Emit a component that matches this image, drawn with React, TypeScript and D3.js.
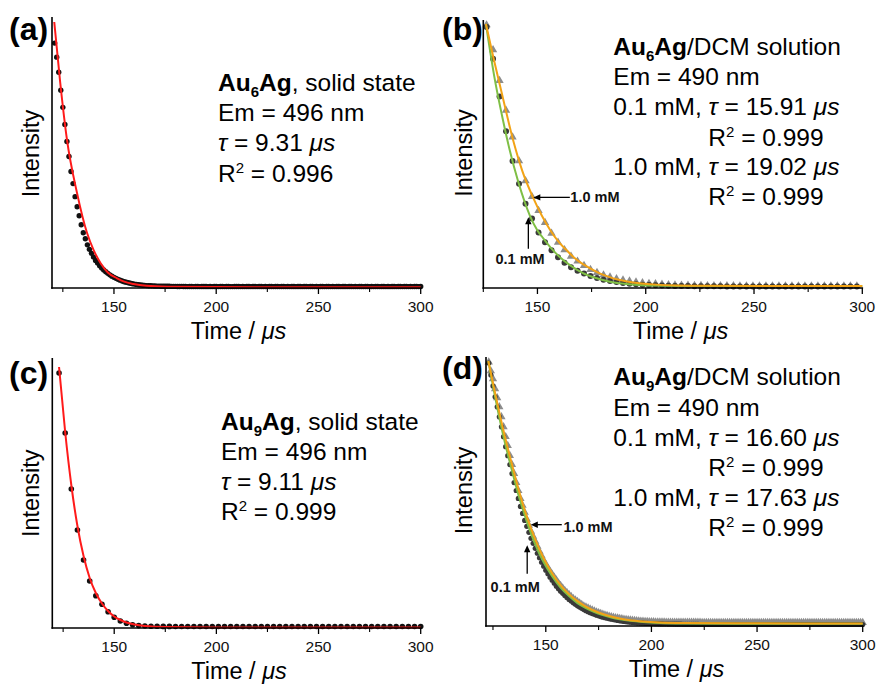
import React from "react";
import * as d3 from "d3";

const W = 879;
const H = 684;
const FONT = '"Liberation Sans", Arial, Helvetica, sans-serif';

const T_END = 300;
const MAJOR_TICKS = [150, 200, 250, 300];
const MINOR_TICKS = [125, 175, 225, 275];

// ---------- (a) Au6Ag solid state ----------
const A_START = 121;
const A_STEP = 1;
const A_DATA = [
  244, 230, 215, 197, 180, 163, 146, 131, 116, 104,
  91, 81, 72, 63, 55, 49, 43, 38.5, 34.5, 31,
  27.5, 24.8, 22.2, 20, 18, 16.2, 14.6, 13.1, 11.8, 10.6,
  9.6, 8.6, 7.8, 7, 6.3, 5.7, 5.2, 4.7, 4.3, 3.9,
  3.6, 3.3, 3.0, 2.8, 2.6, 2.4, 2.3, 2.2, 2.1, 2.0,
  1.9, 1.9, 1.8, 1.8, 1.7, 1.7, 1.7, 1.6, 1.6, 1.6,
  1.5, 1.5, 1.6, 1.5, 1.5, 1.4, 1.5, 1.5, 1.4, 1.5,
  1.5, 1.4, 1.5, 1.5, 1.5, 1.4, 1.5, 1.4, 1.5, 1.5,
  1.4, 1.5, 1.5, 1.4, 1.5, 1.5, 1.4, 1.4, 1.5, 1.5,
  1.5, 1.4, 1.5, 1.4, 1.5, 1.5, 1.4, 1.5, 1.5, 1.4,
  1.5, 1.5, 1.4, 1.5, 1.4, 1.5, 1.5, 1.4, 1.5, 1.5,
  1.4, 1.5, 1.5, 1.4, 1.5, 1.4, 1.5, 1.5, 1.4, 1.5,
  1.5, 1.4, 1.5, 1.5, 1.4, 1.5, 1.5, 1.4, 1.5, 1.4,
  1.5, 1.5, 1.4, 1.5, 1.5, 1.4, 1.5, 1.4, 1.5, 1.5,
  1.4, 1.5, 1.5, 1.4, 1.5, 1.5, 1.4, 1.5, 1.4, 1.5,
  1.5, 1.4, 1.5, 1.5, 1.4, 1.5, 1.4, 1.5, 1.5, 1.4,
  1.5, 1.5, 1.4, 1.5, 1.4, 1.5, 1.5, 1.4, 1.5, 1.5,
  1.4, 1.5, 1.5, 1.4, 1.5, 1.4, 1.5, 1.5, 1.4, 1.5,
];
const A_FIT_T = [120.8, 123.7, 127, 131.9, 136.8, 140, 143.4, 147, 151.5, 155, 159.6, 166, 176, 200, 300];
const A_FIT_I = [265, 205, 148, 95, 55, 38, 25, 15.5, 9.7, 6.3, 4, 2.2, 1.3, 0.9, 0.7];

// ---------- (b) Au6Ag / DCM solution ----------
const B_START = 126.5;
const B_STEP = 3;
const B_TRI_1MM = [
  265, 240, 209, 179, 152, 128, 108, 92, 78, 66,
  55, 46, 38.5, 32, 27, 22.5, 18.5, 15.5, 13, 11,
  9.3, 8, 7, 6, 5.2, 4.6, 4.1, 3.7, 3.3, 3.0,
  2.8, 2.6, 2.5, 2.4, 2.3, 2.2, 2.2, 2.1, 2.1, 2.0,
  2.0, 2.0, 2.0, 2.0, 2.0, 2.0, 2.0, 2.0, 2.0, 2.0,
  2.0, 2.0, 2.0, 2.0, 2.0, 2.0, 2.0, 2.0,
];
const B_CIRC_01MM = [
  263, 231, 193, 158, 128, 105, 85, 70, 56, 46,
  38, 31, 25.5, 21, 17.5, 14.5, 12, 10, 8.3, 7,
  6, 5, 4.3, 3.7, 3.3, 3.0, 2.7, 2.5, 2.3, 2.1,
  2.0, 1.9, 1.8, 1.8, 1.7, 1.7, 1.7, 1.6, 1.6, 1.6,
  1.6, 1.6, 1.6, 1.6, 1.6, 1.6, 1.6, 1.6, 1.6, 1.6,
  1.6, 1.6, 1.6, 1.6, 1.6, 1.6, 1.6, 1.6,
];
const B_FIT1_T = [126.2, 130, 134, 139, 143, 148, 152, 156, 160, 163.5, 167, 171, 175, 179, 183, 187, 192, 197, 205, 215, 230, 260, 300];
const B_FIT1_I = [266, 229, 192, 147, 118, 91, 73, 58, 46, 38, 30.5, 24, 19, 14.5, 11.2, 8.6, 6.4, 4.9, 3.4, 2.6, 2.2, 2.0, 2.0];
const B_FIT01_T = [126.2, 130, 134, 137.3, 141, 146.5, 150, 152.7, 156, 160.4, 165, 171, 177, 183.5, 190, 197, 205, 220, 250, 300];
const B_FIT01_I = [266, 214, 170, 138, 108, 73, 58, 50, 41, 31, 23, 15, 10, 6.3, 4.3, 3, 2.4, 2, 1.9, 1.9];

// ---------- (c) Au9Ag solid state ----------
const C_START = 123;
const C_STEP = 3;
const C_DATA = [
  255, 195, 139, 98, 68, 47, 32.3, 23.7, 16.3, 10.7,
  7, 4.7, 3.2, 2.4, 2.0, 1.8, 1.7, 1.6, 1.6, 1.5,
  1.5, 1.5, 1.5, 1.5, 1.5, 1.5, 1.5, 1.5, 1.5, 1.5,
  1.5, 1.5, 1.5, 1.5, 1.5, 1.5, 1.5, 1.5, 1.5, 1.5,
  1.5, 1.5, 1.5, 1.5, 1.5, 1.5, 1.5, 1.5, 1.5, 1.5,
  1.5, 1.5, 1.5, 1.5, 1.5, 1.5, 1.5, 1.5, 1.5, 1.5,
];
const C_FIT_T = [123, 126, 129, 132, 135, 138, 141, 144, 147, 150, 153, 156, 160, 165, 175, 200, 300];
const C_FIT_I = [261, 196, 143, 102, 72, 50, 35, 24.5, 17, 11.5, 8, 5.5, 3.4, 2, 1, 0.6, 0.5];

// ---------- (d) Au9Ag / DCM solution ----------
const D_START = 123;
const D_STEP = 1;
const D_TRI_1MM = [
  265, 256, 248, 238, 229, 220, 210, 200, 190, 181,
  171, 162, 153, 144, 136, 128, 121, 114, 107, 101,
  95, 90, 85, 80, 75, 70.5, 66, 62, 58.5, 55,
  52, 49, 46, 43, 40.5, 38, 35.5, 33.5, 31.5, 29.5,
  27.5, 26, 24.5, 23, 21.5, 20, 19, 18, 17, 16,
  15, 14, 13.2, 12.5, 11.8, 11, 10.4, 9.8, 9.3, 8.8,
  8.3, 7.9, 7.5, 7.1, 6.8, 6.5, 6.2, 5.9, 5.6, 5.4,
  5.2, 5.0, 4.8, 4.6, 4.5, 4.4, 4.3, 4.2, 4.1, 4.0,
  4.0, 3.9, 3.9, 3.9, 3.8, 3.8, 3.8, 3.8, 3.7, 3.7,
  3.7, 3.7, 3.7, 3.6, 3.6, 3.6, 3.6, 3.6, 3.6, 3.6,
  3.6, 3.5, 3.5, 3.5, 3.5, 3.5, 3.5, 3.5, 3.5, 3.5,
  3.5, 3.5, 3.5, 3.5, 3.5, 3.5, 3.5, 3.5, 3.5, 3.5,
  3.5, 3.5, 3.5, 3.5, 3.5, 3.5, 3.5, 3.5, 3.5, 3.5,
  3.5, 3.5, 3.5, 3.5, 3.5, 3.5, 3.5, 3.5, 3.5, 3.5,
  3.5, 3.5, 3.5, 3.5, 3.5, 3.5, 3.5, 3.5, 3.5, 3.5,
  3.5, 3.5, 3.5, 3.5, 3.5, 3.5, 3.5, 3.5, 3.5, 3.5,
  3.5, 3.5, 3.5, 3.5, 3.5, 3.5, 3.5, 3.5, 3.5, 3.5,
  3.5, 3.5, 3.5, 3.5, 3.5, 3.5, 3.5, 3.5,
];
const D_CIRC_01MM = [
  264, 252, 241, 230, 220, 210, 200, 190, 180, 171,
  162, 153, 144, 136, 128, 120, 113, 106, 100, 94,
  88, 83, 78, 73, 68.5, 64, 60, 56, 52.5, 49,
  46, 43, 40, 37.5, 35, 32.8, 30.6, 28.6, 26.7, 25,
  23.3, 21.8, 20.3, 19, 17.7, 16.5, 15.4, 14.4, 13.4, 12.5,
  11.7, 10.9, 10.2, 9.5, 8.9, 8.3, 7.8, 7.3, 6.8, 6.4,
  6.0, 5.6, 5.2, 4.9, 4.6, 4.3, 4.0, 3.8, 3.6, 3.4,
  3.2, 3.0, 2.9, 2.8, 2.7, 2.6, 2.5, 2.4, 2.3, 2.2,
  2.2, 2.1, 2.1, 2.0, 2.0, 1.9, 1.9, 1.9, 1.8, 1.8,
  1.8, 1.8, 1.7, 1.7, 1.7, 1.7, 1.7, 1.6, 1.6, 1.6,
  1.5, 1.5, 1.5, 1.5, 1.5, 1.5, 1.5, 1.5, 1.5, 1.5,
  1.5, 1.5, 1.5, 1.5, 1.5, 1.5, 1.5, 1.5, 1.5, 1.5,
  1.5, 1.5, 1.5, 1.5, 1.5, 1.5, 1.5, 1.5, 1.5, 1.5,
  1.5, 1.5, 1.5, 1.5, 1.5, 1.5, 1.5, 1.5, 1.5, 1.5,
  1.5, 1.5, 1.5, 1.5, 1.5, 1.5, 1.5, 1.5, 1.5, 1.5,
  1.5, 1.5, 1.5, 1.5, 1.5, 1.5, 1.5, 1.5, 1.5, 1.5,
  1.5, 1.5, 1.5, 1.5, 1.5, 1.5, 1.5, 1.5, 1.5, 1.5,
  1.5, 1.5, 1.5, 1.5, 1.5, 1.5, 1.5, 1.5,
];
const D_FIT1_T = [122.8, 126, 130, 134, 137, 141, 145, 149, 153, 157, 161, 165, 169, 173, 177, 181, 185, 190, 196, 204, 215, 240, 300];
const D_FIT1_I = [266, 234, 196, 162, 138, 110, 87, 68, 53, 41, 32, 25, 19.5, 15.3, 12, 9.5, 7.6, 5.8, 4.5, 3.5, 3, 2.7, 2.6];
const D_FIT01_T = [122.8, 126, 130, 134, 137, 141, 145, 149, 153, 157, 161, 165, 169, 173, 177, 181, 185, 190, 196, 204, 215, 240, 300];
const D_FIT01_I = [266, 230, 190, 156, 132, 105, 82, 64, 50, 38.5, 30, 23, 18, 14, 11, 8.6, 6.8, 5.2, 4, 3.1, 2.6, 2.3, 2.2];

// ---------- styles ----------
const RED = "#ff1a1a";
const GREEN = "#7fbf45";
const ORANGE = "#f2a316";
const DARK = "#3a3a3a";
const GRAY = "#8c8c8c";
const BLACK_DOT = "#111111";

type Frame = { x0: number; x1: number; top: number; base: number; tMin: number };
type Series = { kind: "circle" | "tri"; start: number; step: number; values: number[]; color: string; r: number };
type Fit = { t: number[]; v: number[]; color: string; width: number };

function Panel(props: {
  frame: Frame;
  series: Series[];
  fits: Fit[];
  label: string;
  labelX: number;
  labelY: number;
  titleX: number;
  titleDy: number;
  intensityX: number;
  intensityY: number;
  arrows?: { t: number; v: number; text: string; dir: "h" | "v"; len: number; lx: number; ly: number; anchor: string }[];
  children?: React.ReactNode;
}) {
  const f = props.frame;
  const x = d3.scaleLinear().domain([f.tMin, T_END]).range([f.x0, f.x1]);
  const y = d3.scaleLinear().domain([0, 270]).range([f.base, f.top]);
  const line = d3
    .line<[number, number]>()
    .x((d) => x(d[0]))
    .y((d) => y(d[1]))
    .curve(d3.curveMonotoneX);

  return (
    <g>
      {/* data */}
      {props.series.map((s, si) => {
        const tri = d3.symbol().type(d3.symbolTriangle).size(s.r)() as string;
        return (
          <g key={si}>
            {s.values.map((v, i) => {
              const t = s.start + i * s.step;
              if (t > T_END + 0.01) return null;
              return s.kind === "circle" ? (
                <circle key={i} cx={x(t)} cy={y(v)} r={s.r} fill={s.color} />
              ) : (
                <path key={i} d={tri} transform={`translate(${x(t)},${y(v)})`} fill={s.color} />
              );
            })}
          </g>
        );
      })}
      {/* fits */}
      {props.fits.map((fit, fi) => (
        <path
          key={fi}
          d={line(fit.t.map((t, i) => [t, fit.v[i]] as [number, number])) || ""}
          fill="none"
          stroke={fit.color}
          strokeWidth={fit.width}
        />
      ))}
      {/* axes */}
      <line x1={f.x0} x2={f.x0} y1={f.top} y2={f.base + 0.8} stroke="#000" strokeWidth={1.6} />
      <line x1={f.x0 - 0.8} x2={f.x1 + 0.8} y1={f.base} y2={f.base} stroke="#000" strokeWidth={1.6} />
      {MAJOR_TICKS.map((t) => (
        <g key={t}>
          <line x1={x(t)} x2={x(t)} y1={f.base} y2={f.base + 6} stroke="#000" strokeWidth={1.3} />
          <text x={x(t)} y={f.base + 24} textAnchor="middle" fontSize={15.5} fontFamily={FONT} fill="#111">
            {t}
          </text>
        </g>
      ))}
      {MINOR_TICKS.filter((t) => t >= f.tMin - 0.2).map((t) => (
        <line key={t} x1={x(t)} x2={x(t)} y1={f.base} y2={f.base + 4} stroke="#000" strokeWidth={1.1} />
      ))}
      <text x={props.titleX} y={f.base + props.titleDy} textAnchor="middle" fontSize={23.5} fontFamily={FONT} fill="#000">
        Time / <tspan fontStyle="italic">μs</tspan>
      </text>
      <text
        transform={`translate(${props.intensityX},${props.intensityY}) rotate(-90)`}
        textAnchor="middle"
        fontSize={23.5}
        fontFamily={FONT}
        fill="#000"
      >
        Intensity
      </text>
      <text x={props.labelX} y={props.labelY} fontSize={32} fontWeight="bold" fontFamily={FONT} fill="#000">
        {props.label}
      </text>
      {(props.arrows || []).map((a, i) => {
        const tx = x(a.t);
        const ty = y(a.v);
        const hl = 7;
        const hw = 3.2;
        const tail = a.dir === "h" ? [tx + a.len, ty] : [tx, ty + a.len];
        const head =
          a.dir === "h"
            ? `M${tx},${ty} L${tx + hl},${ty - hw} L${tx + hl},${ty + hw} Z`
            : `M${tx},${ty} L${tx - hw},${ty + hl} L${tx + hw},${ty + hl} Z`;
        return (
          <g key={i}>
            <line
              x1={a.dir === "h" ? tx + hl - 1 : tx}
              y1={a.dir === "h" ? ty : ty + hl - 1}
              x2={tail[0]}
              y2={tail[1]}
              stroke="#000"
              strokeWidth={1.3}
            />
            <path d={head} fill="#000" />
            <text
              x={tx + a.lx}
              y={ty + a.ly}
              textAnchor={a.anchor}
              fontSize={14.5}
              fontWeight="bold"
              fontFamily={FONT}
              fill="#111"
            >
              {a.text}
            </text>
          </g>
        );
      })}
      {props.children}
    </g>
  );
}

const TXT = { fontSize: 24.5, fontFamily: FONT, fill: "#000" };

function Compound(props: { x: number; y: number; sub: string; rest: string }) {
  return (
    <text x={props.x} y={props.y} {...TXT}>
      <tspan fontWeight="bold">Au</tspan>
      <tspan fontWeight="bold" fontSize={15} dy={6}>
        {props.sub}
      </tspan>
      <tspan fontWeight="bold" dy={-6}>
        Ag
      </tspan>
      <tspan>{props.rest}</tspan>
    </text>
  );
}

function R2(props: { x: number; y: number; value: string }) {
  return (
    <text x={props.x} y={props.y} {...TXT}>
      R<tspan fontSize={15} dy={-9}>2</tspan>
      <tspan dy={9}> = {props.value}</tspan>
    </text>
  );
}

function Tau(props: { x: number; y: number; prefix: string; value: string }) {
  return (
    <text x={props.x} y={props.y} {...TXT}>
      {props.prefix}
      <tspan fontStyle="italic">τ</tspan> = {props.value} <tspan fontStyle="italic">μs</tspan>
    </text>
  );
}

export default function App() {
  const frameA: Frame = { x0: 52, x1: 420.7, top: 17, base: 288, tMin: 119.7 };
  const frameB: Frame = { x0: 483.3, x1: 862.3, top: 20, base: 288, tMin: 125 };
  const frameC: Frame = { x0: 52.3, x1: 420.7, top: 358, base: 628, tMin: 119.7 };
  const frameD: Frame = { x0: 486, x1: 862.7, top: 357, base: 626, tMin: 121.7 };

  return (
    <svg
      width={W}
      height={H}
      viewBox={`0 0 ${W} ${H}`}
      style={{ position: "absolute", left: 0, top: 0, background: "#fff" }}
    >
      <rect x={0} y={0} width={W} height={H} fill="#fff" />

      <Panel
        frame={frameA}
        series={[{ kind: "circle", start: A_START, step: A_STEP, values: A_DATA, color: BLACK_DOT, r: 2.7 }]}
        fits={[{ t: A_FIT_T, v: A_FIT_I, color: RED, width: 2 }]}
        label="(a)"
        labelX={9}
        labelY={40}
        titleX={238.5}
        titleDy={50.5}
        intensityX={38.5}
        intensityY={153.5}
      >
        <Compound x={218} y={91} sub="6" rest=", solid state" />
        <text x={218} y={121} {...TXT}>Em = 496 nm</text>
        <Tau x={218} y={151} prefix="" value="9.31" />
        <R2 x={218} y={181.5} value="0.996" />
      </Panel>

      <Panel
        frame={frameB}
        series={[
          { kind: "tri", start: B_START, step: B_STEP, values: B_TRI_1MM, color: GRAY, r: 30 },
          { kind: "circle", start: B_START, step: B_STEP, values: B_CIRC_01MM, color: DARK, r: 3 },
        ]}
        fits={[
          { t: B_FIT01_T, v: B_FIT01_I, color: GREEN, width: 2 },
          { t: B_FIT1_T, v: B_FIT1_I, color: ORANGE, width: 2 },
        ]}
        label="(b)"
        labelX={442}
        labelY={40}
        titleX={680.5}
        titleDy={51}
        intensityX={471.5}
        intensityY={153}
        arrows={[
          { t: 148.1, v: 91.3, text: "1.0 mM", dir: "h", len: 36.5, lx: 37, ly: 4.8, anchor: "start" },
          { t: 145.8, v: 71.3, text: "0.1 mM", dir: "v", len: 31.5, lx: -8.3, ly: 46.5, anchor: "middle" },
        ]}
      >
        <Compound x={613.3} y={55} sub="6" rest="/DCM solution" />
        <text x={613.3} y={85} {...TXT}>Em = 490 nm</text>
        <Tau x={613.3} y={115} prefix="0.1 mM, " value="15.91" />
        <R2 x={708.3} y={145.5} value="0.999" />
        <Tau x={613.3} y={175} prefix="1.0 mM, " value="19.02" />
        <R2 x={708.3} y={205} value="0.999" />
      </Panel>

      <Panel
        frame={frameC}
        series={[{ kind: "circle", start: C_START, step: C_STEP, values: C_DATA, color: BLACK_DOT, r: 2.8 }]}
        fits={[{ t: C_FIT_T, v: C_FIT_I, color: RED, width: 2 }]}
        label="(c)"
        labelX={9}
        labelY={383.5}
        titleX={239}
        titleDy={50.5}
        intensityX={38.5}
        intensityY={493.3}
      >
        <Compound x={221} y={429.5} sub="9" rest=", solid state" />
        <text x={221} y={459.5} {...TXT}>Em = 496 nm</text>
        <Tau x={221} y={489.5} prefix="" value="9.11" />
        <R2 x={221} y={519.5} value="0.999" />
      </Panel>

      <Panel
        frame={frameD}
        series={[
          { kind: "tri", start: D_START, step: D_STEP, values: D_TRI_1MM, color: GRAY, r: 30 },
          { kind: "circle", start: D_START, step: D_STEP, values: D_CIRC_01MM, color: DARK, r: 2.6 },
        ]}
        fits={[
          { t: D_FIT01_T, v: D_FIT01_I, color: GREEN, width: 2 },
          { t: D_FIT1_T, v: D_FIT1_I, color: ORANGE, width: 2 },
        ]}
        label="(d)"
        labelX={442}
        labelY={378.5}
        titleX={676.5}
        titleDy={50.5}
        intensityX={472}
        intensityY={490.5}
        arrows={[
          { t: 142.9, v: 101.7, text: "1.0 mM", dir: "h", len: 31, lx: 32.6, ly: 7.2, anchor: "start" },
          { t: 141.2, v: 81, text: "0.1 mM", dir: "v", len: 28.5, lx: -12, ly: 46.7, anchor: "middle" },
        ]}
      >
        <Compound x={613.3} y={385} sub="9" rest="/DCM solution" />
        <text x={613.3} y={416} {...TXT}>Em = 490 nm</text>
        <Tau x={613.3} y={446} prefix="0.1 mM, " value="16.60" />
        <R2 x={708.3} y={476} value="0.999" />
        <Tau x={613.3} y={506} prefix="1.0 mM, " value="17.63" />
        <R2 x={708.3} y={536} value="0.999" />
      </Panel>
    </svg>
  );
}
